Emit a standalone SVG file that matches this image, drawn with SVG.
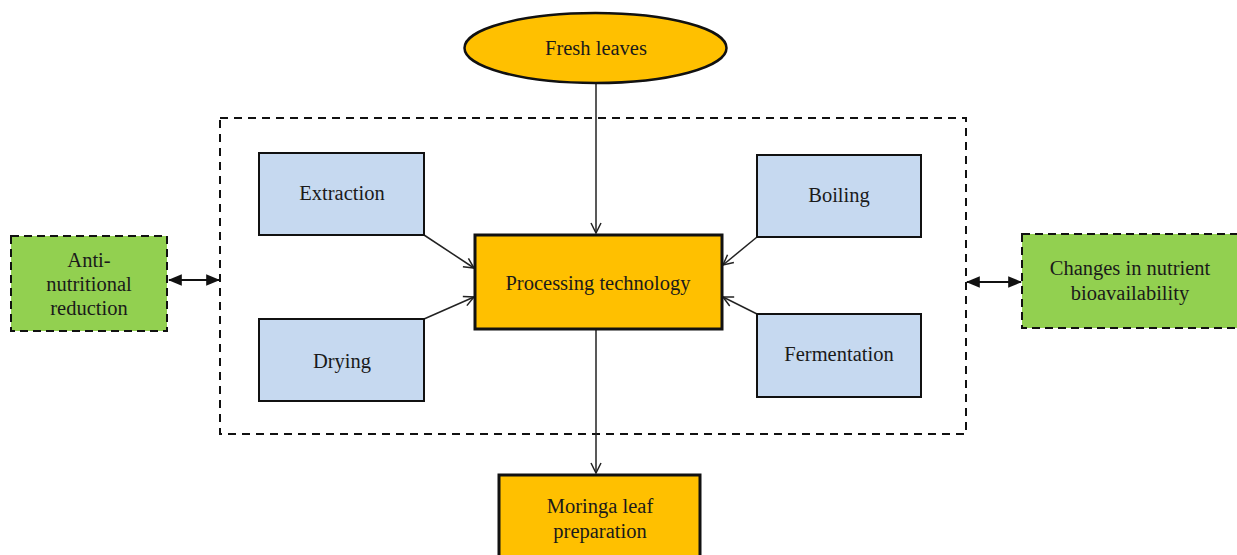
<svg xmlns="http://www.w3.org/2000/svg" width="1237" height="555" viewBox="0 0 1237 555">
  <style>
    .method { fill: #c6d9f0; stroke: #111; stroke-width: 2; }
    .core { fill: #ffc000; stroke: #111; stroke-width: 3; }
    .outcome { fill: #92d050; stroke: #111; stroke-width: 2; stroke-dasharray: 8 5; }
    .frame { fill: none; stroke: #111; stroke-width: 2; stroke-dasharray: 8 6; }
    .link { stroke: #222; stroke-width: 1.5; fill: none; }
    .link2 { stroke: #111; stroke-width: 2; fill: none; }
  </style>
  <defs>
    <marker id="open" viewBox="0 0 12 12" refX="11" refY="6" markerWidth="12" markerHeight="12" markerUnits="userSpaceOnUse" orient="auto">
      <path d="M1,1 L11,6 L1,11" fill="none" stroke="#222" stroke-width="1.5"/>
    </marker>
    <marker id="solid" viewBox="0 0 12 12" refX="11" refY="6" markerWidth="14" markerHeight="14" markerUnits="userSpaceOnUse" orient="auto-start-reverse">
      <path d="M0,1 L12,6 L0,11 Z" fill="#111"/>
    </marker>
  </defs>

  <rect id="process-frame" class="frame" x="220" y="118" width="746" height="316"/>

  <g id="connectors">
    <line class="link" x1="596" y1="83" x2="596" y2="233" marker-end="url(#open)"/>
    <line class="link" x1="424" y1="235" x2="474" y2="268" marker-end="url(#open)"/>
    <line class="link" x1="424" y1="319" x2="474" y2="297" marker-end="url(#open)"/>
    <line class="link" x1="757" y1="237" x2="723" y2="265" marker-end="url(#open)"/>
    <line class="link" x1="757" y1="314" x2="723" y2="297" marker-end="url(#open)"/>
    <line class="link" x1="596" y1="330" x2="596" y2="473" marker-end="url(#open)"/>
    <line class="link2" x1="169" y1="280" x2="219" y2="280" marker-start="url(#solid)" marker-end="url(#solid)"/>
    <line class="link2" x1="967" y1="282" x2="1021" y2="282" marker-start="url(#solid)" marker-end="url(#solid)"/>
  </g>

  <g font-family="'Liberation Serif', 'DejaVu Serif', serif" font-size="20.5" fill="#1a1a1a" text-anchor="middle">
    <g id="fresh-leaves">
      <ellipse class="core" cx="595.5" cy="48" rx="131" ry="35" style="stroke-width:2.5"/>
      <text x="596" y="55">Fresh leaves</text>
    </g>

    <g id="extraction">
      <rect class="method" x="259" y="153" width="165" height="82"/>
      <text x="342" y="200">Extraction</text>
    </g>

    <g id="boiling">
      <rect class="method" x="757" y="155" width="164" height="82"/>
      <text x="839" y="202">Boiling</text>
    </g>

    <g id="drying">
      <rect class="method" x="259" y="319" width="165" height="82"/>
      <text x="342" y="368">Drying</text>
    </g>

    <g id="fermentation">
      <rect class="method" x="757" y="314" width="164" height="83"/>
      <text x="839" y="361">Fermentation</text>
    </g>

    <g id="processing-technology">
      <rect class="core" x="475" y="235" width="247" height="94"/>
      <text x="598" y="290">Processing technology</text>
    </g>

    <g id="moringa-leaf-preparation">
      <rect class="core" x="499" y="475" width="201" height="90"/>
      <text x="600" y="513">Moringa leaf</text>
      <text x="600" y="538">preparation</text>
    </g>

    <g id="anti-nutritional-reduction">
      <rect class="outcome" x="11" y="236" width="156" height="95"/>
      <text x="89" y="267">Anti-</text>
      <text x="89" y="291">nutritional</text>
      <text x="89" y="315">reduction</text>
    </g>

    <g id="nutrient-bioavailability">
      <rect class="outcome" x="1022" y="234" width="222" height="94"/>
      <text x="1130" y="275">Changes in nutrient</text>
      <text x="1130" y="300">bioavailability</text>
    </g>
  </g>
</svg>
